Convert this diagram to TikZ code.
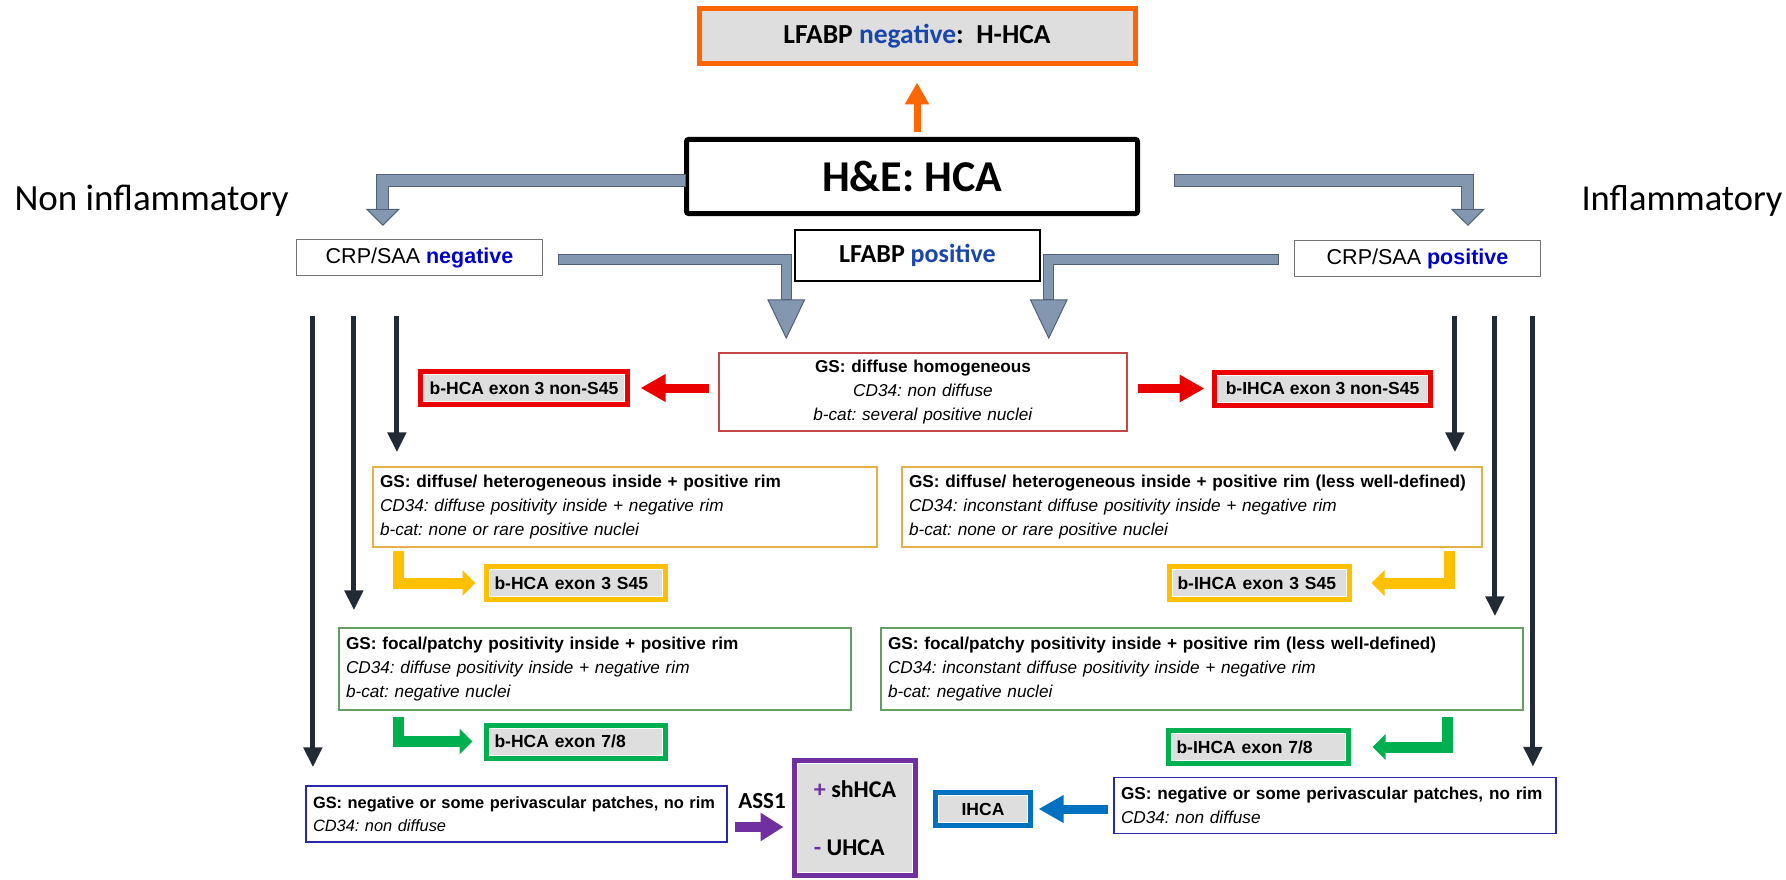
\documentclass[tikz,border=0pt]{standalone}
\usepackage{fontspec}
\setmainfont{Liberation Sans}
\newfontfamily\calibri{Carlito}
\usetikzlibrary{arrows.meta,calc}

\definecolor{hhcaorange}{RGB}{255,102,0}
\definecolor{boxgray}{RGB}{222,222,222}
\definecolor{slatefill}{RGB}{132,151,176}
\definecolor{slateedge}{RGB}{80,96,120}
\definecolor{navyline}{RGB}{34,42,53}
\definecolor{gsredline}{RGB}{196,70,70}
\definecolor{exred}{RGB}{235,0,0}
\definecolor{exgold}{RGB}{255,192,0}
\definecolor{gsgoldline}{RGB}{228,176,72}
\definecolor{exgreen}{RGB}{0,176,80}
\definecolor{gsgreenline}{RGB}{100,158,96}
\definecolor{gsblueline}{RGB}{40,40,170}
\definecolor{ihcablue}{RGB}{0,112,192}
\definecolor{ass1purple}{RGB}{112,48,160}
\definecolor{lfblue}{RGB}{25,70,170}
\definecolor{crpblue}{RGB}{0,0,205}

\tikzset{gsbox/.style={ % thin frame, GS / CD34 / b-cat profile
            draw=#1, line width=1.5pt, fill=white, align=left,
            inner xsep=7pt, inner ysep=3pt,
            font=\fontsize{17.2}{24}\selectfont},
        exbox/.style={ % subtype result, thick frame on gray
            draw=#1, line width=5pt, fill=boxgray, inner xsep=8pt,
            minimum height=33pt, font=\bfseries\fontsize{17.5}{21}\selectfont,
            path picture={\draw[white, line width=7pt]
              (path picture bounding box.south west) rectangle
              (path picture bounding box.north east);}},
        crpbox/.style={
            draw=black!55, line width=1.2pt, minimum width=246pt,
            minimum height=36pt, font=\fontsize{21.5}{24}\selectfont},
        topgray/.style={ % block arrows out of H&E
            slatefill, line width=11pt, shorten >=17pt, shorten <=1pt,
            preaction={draw=slateedge, line width=13pt, shorten >=0pt, shorten <=0pt,
              -{Triangle[length=17pt, width=34pt, line width=1pt, fill=slatefill]}}},
        midgray/.style={
            slatefill, line width=9pt, shorten >=40pt, shorten <=1pt,
            preaction={draw=slateedge, line width=11pt, shorten >=0pt, shorten <=0pt,
              -{Triangle[length=40pt, width=38pt, line width=1pt, fill=slatefill]}}},
        navyarrow/.style={navyline, line width=5pt,
            -{Triangle[length=20pt, width=18pt]}},
        negarrow/.style={hhcaorange, line width=7pt, -{Triangle[length=22pt, width=23pt]}},
        redarrow/.style={exred, line width=9pt, -{Triangle[length=25pt, width=26pt]}},
        goldarrow/.style={exgold, line width=11pt, -{Triangle[length=13pt, width=25pt]}},
        greenarrow/.style={exgreen, line width=11pt, -{Triangle[length=13pt, width=25pt]}},
        bluearrow/.style={ihcablue, line width=9pt, -{Triangle[length=25pt, width=26pt]}},
        purparrow/.style={ass1purple, line width=10pt, -{Triangle[length=23pt, width=27pt]}}
        }

\begin{document}
\frenchspacing
\begin{tikzpicture}[x=1pt, y=-1pt]
    \path[fill=white, use as bounding box] (0,0) rectangle (1786,880);

    % side labels
    \node[anchor=base west, font=\calibri\fontsize{37}{40}\selectfont] (noninfl) at (11,210) {Non inflammatory};
    \node[anchor=base west, font=\calibri\fontsize{36.5}{40}\selectfont] (infl) at (1578,210) {Inflammatory};

    % top of the tree
    \node[draw=hhcaorange, line width=5pt, fill=boxgray, minimum width=436pt, minimum height=55pt,
          font=\calibri\bfseries\fontsize{27.5}{30}\selectfont] (hhca) at (917,36) {LFABP \textcolor{lfblue}{negative}:\ \ H-HCA};
    \node[draw, line width=5pt, rounded corners=2pt, minimum width=451pt, minimum height=74pt,
          font=\calibri\bfseries\fontsize{44}{48}\selectfont] (hne) at (912,176.5) {H\&E: HCA};
    \node[crpbox] (crpneg) at (419.5,257.5) {CRP/SAA \textcolor{crpblue}{\bfseries negative}};
    \node[crpbox] (crppos) at (1417.5,258.5) {CRP/SAA \textcolor{crpblue}{\bfseries positive}};
    \node[draw, line width=2pt, fill=white, minimum width=245pt, minimum height=51pt,
          font=\calibri\bfseries\fontsize{26}{28}\selectfont] (lfpos) at (917.5,255.5) {LFABP \textcolor{lfblue}{positive}};

    % staining profiles
    \node[gsbox=gsredline, align=center, text width=394pt, minimum height=78pt] (gsred) at (923,392)
        {\textbf{GS: diffuse homogeneous}\\\textit{CD34: non diffuse}\\\textit{b-cat: several positive nuclei}};
    \node[gsbox=gsgoldline, text width=490pt, minimum height=80pt] (gsyl1) at (625,507)
        {\textbf{GS: diffuse/ heterogeneous inside + positive rim}\\\textit{CD34: diffuse positivity inside + negative rim}\\\textit{b-cat: none or rare positive nuclei}};
    \node[gsbox=gsgoldline, text width=566pt, minimum height=80pt] (gsyl2) at (1192,507)
        {\textbf{GS: diffuse/ heterogeneous inside + positive rim (less well-defined)}\\\textit{CD34: inconstant diffuse positivity inside + negative rim}\\\textit{b-cat: none or rare positive nuclei}};
    \node[gsbox=gsgreenline, text width=498pt, minimum height=82pt] (gsgr1) at (595,669)
        {\textbf{GS: focal/patchy positivity inside + positive rim}\\\textit{CD34: diffuse positivity inside + negative rim}\\\textit{b-cat: negative nuclei}};
    \node[gsbox=gsgreenline, text width=628pt, minimum height=82pt] (gsgr2) at (1202,669)
        {\textbf{GS: focal/patchy positivity inside + positive rim (less well-defined)}\\\textit{CD34: inconstant diffuse positivity inside + negative rim}\\\textit{b-cat: negative nuclei}};
    \node[gsbox=gsblueline, text width=407pt, minimum height=56pt, font=\fontsize{16.4}{23}\selectfont] (gsbl1) at (516.5,814)
        {\textbf{GS: negative or some perivascular patches, no rim}\\\textit{CD34: non diffuse}};
    \node[gsbox=gsblueline, text width=428pt, minimum height=56pt] (gsbl2) at (1335,805.5)
        {\textbf{GS: negative or some perivascular patches, no rim}\\\textit{CD34: non diffuse}};

    % subtypes
    \node[exbox=exred, minimum width=207pt] (exred1) at (524,388) {b-HCA exon 3 non-S45};
    \node[exbox=exred, minimum width=216pt] (exred2) at (1322.5,388.5) {b-IHCA exon 3 non-S45};
    \node[exbox=exgold, text width=163pt] (exyl1) at (576,583) {b-HCA exon 3 S45};
    \node[exbox=exgold, text width=164pt] (exyl2) at (1259.5,583) {b-IHCA exon 3 S45};
    \node[exbox=exgreen, text width=163pt] (exgr1) at (576,741.5) {b-HCA exon 7/8};
    \node[exbox=exgreen, text width=164pt] (exgr2) at (1258.5,747) {b-IHCA exon 7/8};
    \node[exbox=ihcablue, minimum width=95pt] (ihca) at (983,809) {IHCA};
    \node[exbox=ass1purple, minimum width=121pt, minimum height=115pt, align=left,
          font=\calibri\bfseries\fontsize{24}{28}\selectfont] (shhca) at (855,818)
        {\textcolor{ass1purple}{+} shHCA\\[30pt]\textcolor{ass1purple}{-} UHCA};
    \node[font=\calibri\bfseries\fontsize{23}{26}\selectfont] (ass1) at (762,801) {ASS1};

    % LFABP negative
    \draw[negarrow, shorten <=5pt, shorten >=16.5pt] (hhca.south |- hne.north) -- (hhca.south);

    % gray block arrows
    \draw[topgray] ($(hne.west)+(2,4)$) -| ($(crpneg.north west)+(87,-13)$);
    \draw[topgray] ($(hne.east)+(34,4)$) -| ($(crppos.north west)+(174,-14)$);
    \draw[midgray] ($(crpneg.east)+(15,2)$) -| ($(gsred.north west)+(68,-13)$);
    \draw[midgray] ($(crppos.west)+(-15,1)$) -| ($(gsred.north east)+(-79,-13)$);

    % long dark arrows
    \foreach \dx/\tgt/\gap in {17/gsbl1/18, 58/gsgr1/17, 101/gsyl1/14}{
        \coordinate (nstart) at ($(crpneg.south west)+(\dx,40)$);
        \draw[navyarrow, shorten >=\gap pt] (nstart) -- (nstart |- \tgt.north);
    }
    \foreach \dx/\tgt/\gap in {161/gsyl2/14, 201/gsgr2/11, 239/gsbl2/10}{
        \coordinate (nstart) at ($(crppos.south west)+(\dx,39)$);
        \draw[navyarrow, shorten >=\gap pt] (nstart) -- (nstart |- \tgt.north);
    }

    % to the subtypes
    \draw[redarrow, shorten <=9pt, shorten >=10.5pt] (gsred.west |- exred1.east) -- (exred1.east);
    \draw[redarrow, shorten <=10pt, shorten >=7.5pt] (gsred.east |- exred2.west) -- (exred2.west);
    \draw[goldarrow, shorten >=8.5pt] ($(gsyl1.south west)+(26,3)$) |- (exyl1.west);
    \draw[goldarrow, shorten >=19.5pt] ($(gsyl2.south east)+(-33,3)$) |- (exyl2.east);
    \draw[greenarrow, shorten >=11.5pt] ($(gsgr1.south west)+(60,6)$) |- (exgr1.west);
    \draw[greenarrow, shorten >=21.5pt] ($(gsgr2.south east)+(-76,6)$) |- (exgr2.east);
    \draw[bluearrow, shorten <=5pt, shorten >=5.5pt] (gsbl2.west |- ihca.east) -- (ihca.east);
    \coordinate (ass1start) at ($(gsbl1.east)+(0,13)$);
    \draw[purparrow, shorten <=7pt, shorten >=8.5pt] (ass1start) -- (ass1start -| shhca.west);
\end{tikzpicture}
\end{document}
